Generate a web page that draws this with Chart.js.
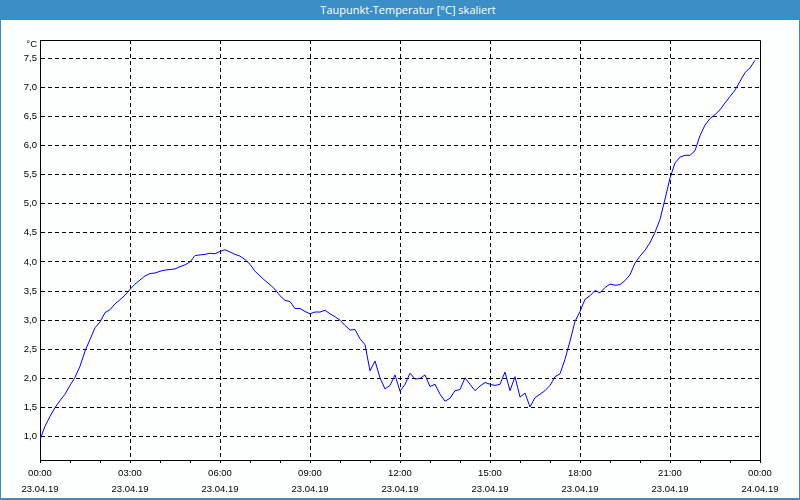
<!DOCTYPE html>
<html>
<head>
<meta charset="utf-8">
<script src="https://cdn.jsdelivr.net/npm/chart.js@4"></script>
<style>
    html, body { margin: 0; padding: 0; background: #fdfefe; }
    #marco {
        position: relative;
        width: 800px;
        height: 500px;
        overflow: hidden;
    }
    #titulo {
        position: absolute;
        left: 0; top: 0;
        width: 800px; height: 20px;
        box-sizing: border-box;
        padding-left: 16px;
        background: #3c8fc6;
        color: #fff;
        font: 11px "Open Sans", "Liberation Sans", sans-serif;
        line-height: 20px;
        text-align: center;
    }
    #borde {
        position: absolute;
        left: 0; top: 0;
        width: 800px; height: 500px;
        box-sizing: border-box;
        border: 1px solid #3c8fc6;
        border-bottom-width: 2px;
        pointer-events: none;
    }
    canvas { position: absolute; left: 0; top: 0; }
</style>
</head>
<body>
<div id="marco">
    <canvas id="graficoTaupunkt" width="800" height="500"></canvas>
    <div id="titulo">Taupunkt-Temperatur [°C] skaliert</div>
    <div id="borde"></div>
</div>

<script>
// ===================== Datos (una muestra cada 10 minutos, 00:00 - 23:50) =====================
var intervaloMin = 10;

var taupunkt = [
    0.95, 1.18, 1.35, 1.50, 1.62, 1.73, 1.88, 2.02, 2.21, 2.47, 2.67, 2.87,
    2.97, 3.13, 3.18, 3.28, 3.35, 3.43, 3.53, 3.62, 3.69, 3.76, 3.80, 3.81,
    3.84, 3.86, 3.87, 3.88, 3.92, 3.95, 4.00, 4.11, 4.12, 4.13, 4.15, 4.14,
    4.18, 4.21, 4.17, 4.13, 4.10, 4.04, 3.96, 3.84, 3.76, 3.68, 3.61, 3.53,
    3.42, 3.34, 3.32, 3.20, 3.20, 3.15, 3.11, 3.14, 3.14, 3.17, 3.11, 3.06,
    3.00, 2.91, 2.83, 2.84, 2.68, 2.58, 2.13, 2.30, 2.01, 1.82, 1.88, 2.06,
    1.78, 1.90, 2.09, 1.99, 2.00, 2.06, 1.86, 1.90, 1.73, 1.61, 1.66, 1.79,
    1.81, 2.01, 1.90, 1.79, 1.87, 1.93, 1.90, 1.88, 1.90, 2.11, 1.79, 2.03,
    1.68, 1.75, 1.51, 1.67, 1.73, 1.79, 1.88, 2.03, 2.08, 2.33, 2.64, 2.98,
    3.15, 3.36, 3.42, 3.51, 3.47, 3.56, 3.62, 3.60, 3.61, 3.68, 3.78, 3.98,
    4.10, 4.20, 4.33, 4.51, 4.73, 5.08, 5.44, 5.70, 5.80, 5.83, 5.83, 5.91,
    6.17, 6.35, 6.46, 6.53, 6.61, 6.73, 6.84, 6.95, 7.10, 7.25, 7.33, 7.46
];

// Etiquetas del eje X cada 3 horas
var horasEtiqueta = ["00:00", "03:00", "06:00", "09:00", "12:00", "15:00", "18:00", "21:00", "00:00"];
var fechasEtiqueta = ["23.04.19", "23.04.19", "23.04.19", "23.04.19", "23.04.19", "23.04.19", "23.04.19", "23.04.19", "24.04.19"];

// Eje Y
var yMin = 0.6;
var yMax = 7.81;
var yPaso = 0.5;
var yUnidad = "°C";

var puntos = taupunkt.map((v, i) => ({ x: i * intervaloMin, y: v }));

var fuente = "'Liberation Sans', Arial, sans-serif";
var colorTexto = '#000';


// ===================== Marco superior y derecho + unidad =====================
var marcoArea = {
    id: 'marcoArea',
    afterDraw(chart) {
        const a = chart.chartArea;
        const ctx = chart.ctx;
        ctx.save();
        ctx.strokeStyle = '#000';
        ctx.lineWidth = 1;
        ctx.beginPath();
        ctx.moveTo(Math.round(a.left) + 0.5, Math.round(a.top) + 0.5);
        ctx.lineTo(Math.round(a.right) + 0.5, Math.round(a.top) + 0.5);
        ctx.lineTo(Math.round(a.right) + 0.5, Math.round(a.bottom) + 0.5);
        ctx.stroke();

        ctx.fillStyle = colorTexto;
        ctx.font = "9.5px " + fuente;
        ctx.textAlign = 'right';
        ctx.textBaseline = 'middle';
        ctx.fillText(yUnidad, a.left - 3, a.top + 4);
        ctx.restore();
    }
};


// ===================== Grafico =====================
var chartTaupunkt = new Chart(document.getElementById("graficoTaupunkt"), {
    type: 'line',
    data: {
        datasets: [{
            label: 'Taupunkt',
            data: puntos,
            borderColor: '#0000ff',
            borderWidth: 1,
            pointRadius: 0,
            tension: 0,
            fill: false
        }]
    },
    options: {
        responsive: false,
        animation: false,
        events: [],
        layout: { padding: { left: 0, top: 40, right: 40, bottom: 0 } },
        plugins: {
            legend: { display: false },
            tooltip: { enabled: false },
            title: { display: false }
        },
        scales: {
            x: {
                type: 'linear',
                min: 0,
                max: 24 * 60,
                afterFit: s => { s.height = 40; },
                border: { display: true, color: '#000', width: 1, dash: [4, 3] },
                grid: {
                    color: c => (c.tick && c.tick.value % 180 === 0 && c.tick.value > 0 && c.tick.value < 1440) ? '#000' : 'rgba(0,0,0,0)',
                    tickColor: '#000',
                    tickLength: 3,
                    tickBorderDash: []
                },
                ticks: {
                    stepSize: 60,
                    autoSkip: false,
                    maxRotation: 0,
                    padding: 2,
                    color: colorTexto,
                    font: { family: fuente, size: 9.5, lineHeight: 1.7 },
                    callback: v => {
                        if (v % 180 !== 0) return '';
                        const k = v / 180;
                        return [horasEtiqueta[k], fechasEtiqueta[k]];
                    }
                }
            },
            y: {
                min: yMin,
                max: yMax,
                afterFit: s => { s.width = 40; },
                border: { display: true, color: '#000', width: 1, dash: [4, 3] },
                grid: {
                    drawTicks: false,
                    color: c => (c.tick && c.tick.value > yMin && c.tick.value < yMax) ? '#000' : 'rgba(0,0,0,0)'
                },
                ticks: {
                    stepSize: yPaso,
                    padding: 3,
                    color: colorTexto,
                    font: { family: fuente, size: 9.5 },
                    callback: v => {
                        if (v <= yMin || v >= yMax) return '';
                        return v.toFixed(1).replace('.', ',');
                    }
                }
            }
        }
    },
    plugins: [marcoArea]
});
</script>
</body>
</html>
